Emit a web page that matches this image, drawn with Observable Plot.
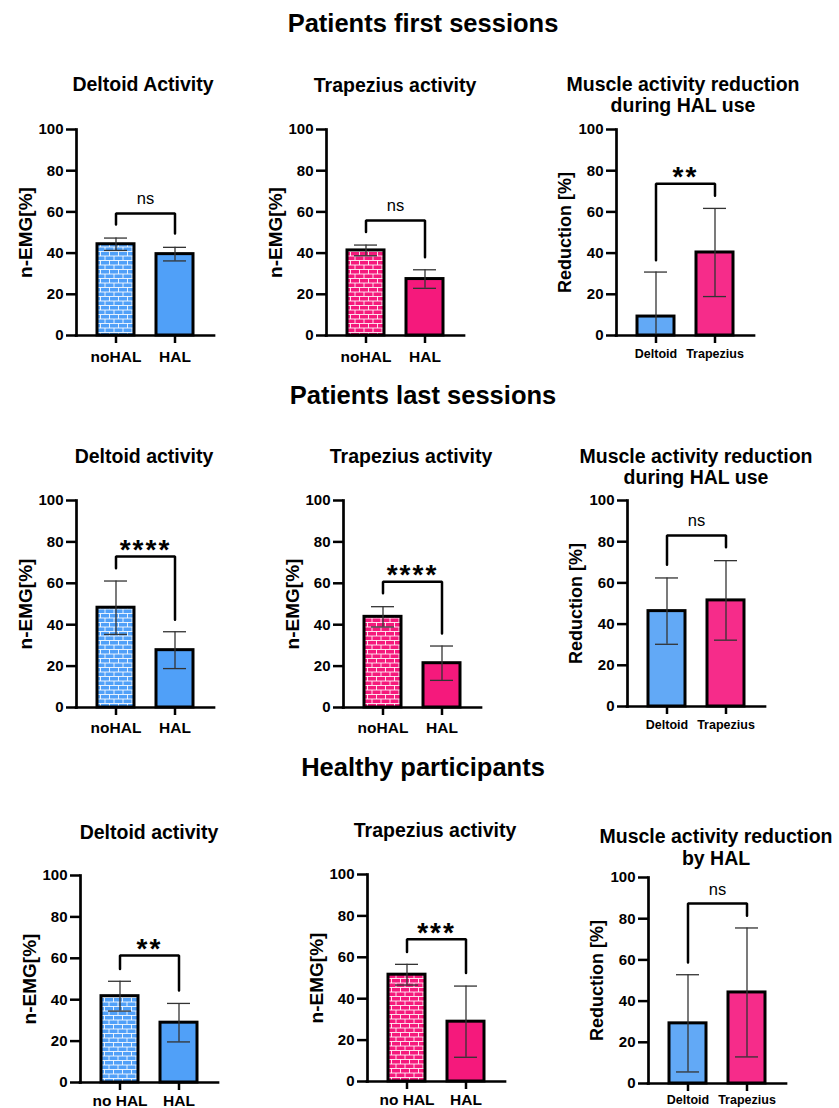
<!DOCTYPE html>
<html><head><meta charset="utf-8">
<script src="https://cdn.jsdelivr.net/npm/d3@7"></script>
<script src="https://cdn.jsdelivr.net/npm/@observablehq/plot@0.6"></script>
<style>
body{margin:0;background:#fff;}
#root{position:relative;width:839px;height:1108px;overflow:hidden;font-family:"Liberation Sans",Arial,sans-serif;}
#root svg.panel{position:absolute;}
</style></head><body><div id="root"></div>
<script>
// ---------- data ----------
const sectionTitles = ["Patients first sessions", "Patients last sessions", "Healthy participants"];
const panelTitles = [
  ["Deltoid Activity"], ["Trapezius activity"], ["Muscle activity reduction", "during HAL use"],
  ["Deltoid activity"], ["Trapezius activity"], ["Muscle activity reduction", "during HAL use"],
  ["Deltoid activity"], ["Trapezius activity"], ["Muscle activity reduction", "by HAL"]
];
const catsPatients = ["noHAL", "HAL"];
const catsHealthy = ["no HAL", "HAL"];
const catsReduction = ["Deltoid", "Trapezius"];
const yTicks = [0, 20, 40, 60, 80, 100];
const yLabelEMG = "n-EMG[%]";
const yLabelReduction = "Reduction [%]";

const firstDeltoidMean = [44.3, 39.5], firstDeltoidSD = [3.0, 3.3];
const firstTrapMean = [41.3, 27.4], firstTrapSD = [2.6, 4.5];
const firstReductionMean = [9.2, 40.3], firstReductionSD = [21.6, 21.4];
const lastDeltoidMean = [48.2, 27.7], lastDeltoidSD = [12.9, 8.9];
const lastTrapMean = [43.8, 21.4], lastTrapSD = [4.9, 8.3];
const lastReductionMean = [46.3, 51.5], lastReductionSD = [16.1, 19.3];
const healthyDeltoidMean = [41.7, 28.9], healthyDeltoidSD = [7.2, 9.3];
const healthyTrapMean = [51.6, 28.9], healthyTrapSD = [5.0, 17.2];
const healthyReductionMean = [29.2, 44.2], healthyReductionSD = [23.6, 31.3];

const sigLabels = ["ns", "ns", "**", "****", "****", "ns", "**", "***", "ns"];
const bracketTop = [59.2, 55.8, 73.7, 73.0, 60.8, 83.0, 61.3, 68.7, 87.4];
const bracketLeftEnd = [53.9, 50.2, 36.5, 67.3, 55.2, 68.8, 54.8, 62.6, 58.7];
const bracketRightEnd = [49.5, 38.0, 67.9, 42.4, 35.8, 77.3, 44.4, 52.4, 81.4];
const sigLabelY = [66.5, 63.0, 80.5, 79.4, 67.4, 90.0, 67.7, 75.2, 94.3];

// ---------- styles / layout ----------
const FONT = "'Liberation Sans', Arial, Helvetica, sans-serif";
const blue = "#50a0f8", pink = "#f5197c", blueLight = "#62a9f6", pinkLight = "#f62c8a";
const layout = [
  {axisX: 76, y100: 129, y0: 335, pad: 7}, {axisX: 326, y100: 129, y0: 335, pad: 7}, {axisX: 616, y100: 129, y0: 335, pad: 6},
  {axisX: 76, y100: 500, y0: 707, pad: 6}, {axisX: 343, y100: 500, y0: 707, pad: 6}, {axisX: 627, y100: 500, y0: 706, pad: 6},
  {axisX: 80, y100: 875, y0: 1082, pad: 4}, {axisX: 367, y100: 874, y0: 1081, pad: 4}, {axisX: 648, y100: 877, y0: 1083, pad: 4}
];
const titlePos = [
  {x: 143, y: [91]}, {x: 395, y: [92]}, {x: 683, y: [91, 112]},
  {x: 144, y: [463]}, {x: 411, y: [463]}, {x: 696, y: [463, 484]},
  {x: 149, y: [839]}, {x: 435, y: [837]}, {x: 716, y: [843, 865]}
];
const sectionPos = [{x: 423, y: 32}, {x: 423, y: 404}, {x: 423, y: 776}];

const panels = [
  {cats: catsPatients, mean: firstDeltoidMean, sd: firstDeltoidSD, kind: "deltoid", yLabel: yLabelEMG},
  {cats: catsPatients, mean: firstTrapMean, sd: firstTrapSD, kind: "trap", yLabel: yLabelEMG},
  {cats: catsReduction, mean: firstReductionMean, sd: firstReductionSD, kind: "reduction", yLabel: yLabelReduction},
  {cats: catsPatients, mean: lastDeltoidMean, sd: lastDeltoidSD, kind: "deltoid", yLabel: yLabelEMG},
  {cats: catsPatients, mean: lastTrapMean, sd: lastTrapSD, kind: "trap", yLabel: yLabelEMG},
  {cats: catsReduction, mean: lastReductionMean, sd: lastReductionSD, kind: "reduction", yLabel: yLabelReduction},
  {cats: catsHealthy, mean: healthyDeltoidMean, sd: healthyDeltoidSD, kind: "deltoid", yLabel: yLabelEMG},
  {cats: catsHealthy, mean: healthyTrapMean, sd: healthyTrapSD, kind: "trap", yLabel: yLabelEMG},
  {cats: catsReduction, mean: healthyReductionMean, sd: healthyReductionSD, kind: "reduction", yLabel: yLabelReduction}
];

const root = document.getElementById("root");

// brick patterns
const defs = d3.select(root).append("svg").attr("width", 0).attr("height", 0)
  .style("position", "absolute").append("defs");
function brick(id, color) {
  const p = defs.append("pattern").attr("id", id).attr("patternUnits", "userSpaceOnUse")
    .attr("width", 9).attr("height", 9);
  p.append("rect").attr("width", 9).attr("height", 9).attr("fill", color);
  p.append("path").attr("d", "M0,0.5H9M0,5H9M0.5,0.5V5M5,5V9")
    .attr("stroke", "#fff").attr("stroke-width", 1).attr("opacity", 0.85).attr("fill", "none");
}
brick("brickBlue", blue);
brick("brickPink", pink);

const mL = 75, mR = 15, mT = 22, mB = 36, plotW = 138;

panels.forEach((p, i) => {
  const L = layout[i];
  const rows = p.cats.map((c, j) => ({cat: c, mean: p.mean[j], lo: p.mean[j] - p.sd[j], hi: p.mean[j] + p.sd[j]}));
  const fills = p.kind === "deltoid" ? ["url(#brickBlue)", blue]
    : p.kind === "trap" ? ["url(#brickPink)", pink] : [blueLight, pinkLight];
  const bracket = [
    {x: p.cats[0], y: bracketLeftEnd[i]}, {x: p.cats[0], y: bracketTop[i]},
    {x: p.cats[1], y: bracketTop[i]}, {x: p.cats[1], y: bracketRightEnd[i]}
  ];
  const isStar = sigLabels[i].startsWith("*");
  const isRed = p.kind === "reduction";
  const xFont = isRed ? 12.5 : 15.5;
  const svg = Plot.plot({
    width: mL + plotW + mR,
    height: mT + (L.y0 - L.y100) + mB,
    marginLeft: mL, marginRight: mR, marginTop: mT, marginBottom: mB,
    style: {fontFamily: FONT, color: "#000", background: "none", overflow: "visible"},
    x: {domain: p.cats, paddingInner: 0.38, paddingOuter: 0.34, label: null},
    y: {domain: [0, 100], label: null},
    marks: [
      Plot.barY(rows.slice(0, 1), {x: "cat", y: "mean", fill: fills[0], stroke: "#000", strokeWidth: 3}),
      Plot.barY(rows.slice(1, 2), {x: "cat", y: "mean", fill: fills[1], stroke: "#000", strokeWidth: 3}),
      Plot.ruleX(rows, {x: "cat", y1: d => Math.max(0, d.lo), y2: "hi", stroke: "#333", strokeWidth: 1.3}),
      Plot.tickY(rows, {x: "cat", y: "hi", stroke: "#333", strokeWidth: 1.3, inset: 7}),
      Plot.tickY(rows.filter(d => d.lo > 0), {x: "cat", y: "lo", stroke: "#333", strokeWidth: 1.3, inset: 7}),
      Plot.line(bracket, {x: "x", y: "y", stroke: "#000", strokeWidth: 2.5, strokeLinejoin: "miter"}),
      Plot.text([sigLabels[i]], {
        y: () => sigLabelY[i], text: d => d, frameAnchor: "middle",
        fontSize: isStar ? 28 : 16.5, fontWeight: isStar ? "bold" : "normal", dy: isStar ? 7 : 0
      }),
      Plot.text([p.yLabel], {
        text: d => d, frameAnchor: "left", textAnchor: "middle", lineAnchor: "middle",
        rotate: -90, dx: -51, fontSize: isRed ? 18 : 19, fontWeight: "bold"
      }),
      Plot.axisY({ticks: yTicks, tickSize: 10, tickPadding: 3, fontSize: 15, fontWeight: "bold", strokeWidth: 2.5, label: null}),
      Plot.axisX({tickSize: 8, tickPadding: L.pad, fontSize: xFont, fontWeight: "bold", strokeWidth: 2.5, label: null}),
      Plot.frame({anchor: "left", strokeWidth: 2.7}),
      Plot.ruleY([0], {strokeWidth: 2.7, strokeLinecap: "square"})
    ]
  });
  svg.classList.add("panel");
  svg.style.left = (L.axisX - mL) + "px";
  svg.style.top = (L.y100 - mT) + "px";
  d3.select(svg).selectAll("text").filter(function () { return this.textContent.startsWith("*"); })
    .style("letter-spacing", "2px");
  root.append(svg);
});

// titles overlay
const over = d3.select(root).append("svg").attr("width", 839).attr("height", 1108)
  .style("position", "absolute").style("left", 0).style("top", 0).style("pointer-events", "none")
  .attr("font-family", FONT).attr("font-weight", "bold").attr("text-anchor", "middle").attr("fill", "#000");
sectionTitles.forEach((t, i) => {
  over.append("text").attr("x", sectionPos[i].x).attr("y", sectionPos[i].y).attr("font-size", 25.5).text(t);
});
panelTitles.forEach((lines, i) => {
  lines.forEach((t, k) => {
    over.append("text").attr("x", titlePos[i].x).attr("y", titlePos[i].y[k]).attr("font-size", 19.5).text(t);
  });
});
</script></body></html>
